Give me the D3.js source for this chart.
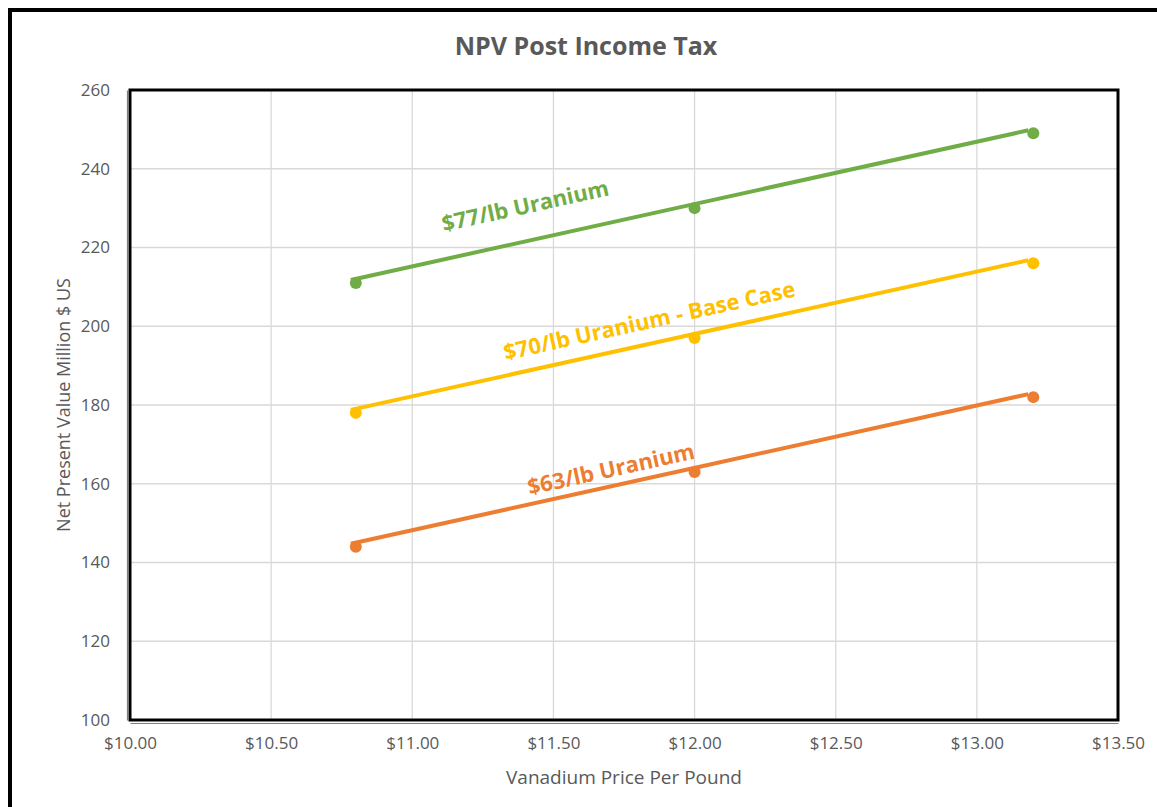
<!DOCTYPE html>
<html>
<head>
<meta charset="utf-8">
<script src="https://cdn.jsdelivr.net/npm/d3@7"></script>
<style>
  body { margin: 0; background: #fff; }
  text { font-family: "Open Sans", "Liberation Sans", sans-serif; }
</style>
</head>
<body>
<div id="chart"></div>
<script>
// Vanadium price points (x) and NPV in million $ US (y)
const vanadiumPrices = [10.8, 12.0, 13.2];
const npv77 = [211, 230, 249];
const npv70 = [178, 197, 216];
const npv63 = [144, 163, 182];
const seriesNames = ['$77/lb Uranium', '$70/lb Uranium - Base Case', '$63/lb Uranium'];
const xTicks = [10.0, 10.5, 11.0, 11.5, 12.0, 12.5, 13.0, 13.5];
const yTicks = [100, 120, 140, 160, 180, 200, 220, 240, 260];

const W = 1157, H = 807;
const margin = { top: 90, right: 39, bottom: 87, left: 130 };
const width = W - margin.left - margin.right;
const height = H - margin.top - margin.bottom;

const series = [
  { name: seriesNames[0], values: npv77, color: '#70ad47', labelAt: 11.43, labelOff: -31 },
  { name: seriesNames[1], values: npv70, color: '#ffc000', labelAt: 11.86, labelOff: -19 },
  { name: seriesNames[2], values: npv63, color: '#ed7d31', labelAt: 11.72, labelOff: -13 }
];

const svg = d3.select('#chart')
  .append('svg')
  .attr('width', W)
  .attr('height', H);

// outer chart frame
svg.append('rect')
  .attr('x', 10).attr('y', 10)
  .attr('width', W + 20).attr('height', H + 20)
  .attr('fill', '#fff')
  .attr('stroke', '#000')
  .attr('stroke-width', 4);

// title
svg.append('text')
  .attr('x', 586)
  .attr('y', 55)
  .attr('text-anchor', 'middle')
  .attr('font-size', 25)
  .attr('font-weight', 'bold')
  .attr('fill', '#595959')
  .text('NPV Post Income Tax');

const g = svg.append('g')
  .attr('transform', `translate(${margin.left}, ${margin.top})`);

const xScale = d3.scaleLinear().domain([10, 13.5]).range([0, width]);
const yScale = d3.scaleLinear().domain([100, 260]).range([height, 0]);

// gridlines
g.append('g')
  .selectAll('line')
  .data(xTicks.slice(1, -1))
  .enter()
  .append('line')
  .attr('x1', d => xScale(d)).attr('x2', d => xScale(d))
  .attr('y1', 0).attr('y2', height)
  .attr('stroke', '#d9d9d9')
  .attr('stroke-width', 1.3);

g.append('g')
  .selectAll('line')
  .data(yTicks.slice(1, -1))
  .enter()
  .append('line')
  .attr('x1', 0).attr('x2', width)
  .attr('y1', d => yScale(d)).attr('y2', d => yScale(d))
  .attr('stroke', '#d9d9d9')
  .attr('stroke-width', 1.3);

// plot area border
g.append('rect')
  .attr('x', 0).attr('y', 0)
  .attr('width', width).attr('height', height)
  .attr('fill', 'none')
  .attr('stroke', '#000')
  .attr('stroke-width', 3);

// axes
const xAxis = g.append('g')
  .attr('transform', `translate(0, ${height + 3})`)
  .call(d3.axisBottom(xScale).tickValues(xTicks).tickFormat(d3.format('$.2f')).tickSize(0).tickPadding(14));

const yAxis = g.append('g')
  .attr('transform', 'translate(-3, 0)')
  .call(d3.axisLeft(yScale).tickValues(yTicks).tickSize(0).tickPadding(17));

[xAxis, yAxis].forEach(ax => {
  ax.select('.domain').attr('stroke', '#7f7f7f').attr('stroke-width', 1.2);
  ax.selectAll('text')
    .attr('font-size', 17)
    .attr('fill', '#595959');
});

// axis titles
svg.append('text')
  .attr('x', margin.left + xScale(11.75))
  .attr('y', 784)
  .attr('text-anchor', 'middle')
  .attr('font-size', 19)
  .attr('fill', '#595959')
  .text('Vanadium Price Per Pound');

svg.append('text')
  .attr('transform', `translate(70, ${margin.top + height / 2}) rotate(-90)`)
  .attr('text-anchor', 'middle')
  .attr('font-size', 18)
  .attr('fill', '#595959')
  .text('Net Present Value Million $ US');

// series lines, markers and labels
const line = d3.line()
  .x((d, i) => xScale(vanadiumPrices[i]))
  .y(d => yScale(d));

series.forEach(s => {
  g.append('path')
    .datum(s.values)
    .attr('d', line)
    .attr('transform', 'translate(-5, -3)')
    .attr('fill', 'none')
    .attr('stroke', s.color)
    .attr('stroke-width', 4);

  g.selectAll(null)
    .data(s.values)
    .enter()
    .append('circle')
    .attr('cx', (d, i) => xScale(vanadiumPrices[i]))
    .attr('cy', d => yScale(d))
    .attr('r', 6)
    .attr('fill', s.color);

  // label placed along the line
  const x0 = xScale(vanadiumPrices[0]), x1 = xScale(vanadiumPrices[2]);
  const y0 = yScale(s.values[0]), y1 = yScale(s.values[2]);
  const angle = Math.atan2(y1 - y0, x1 - x0) * 180 / Math.PI;
  const lx = xScale(s.labelAt);
  const ly = y0 + (y1 - y0) * (lx - x0) / (x1 - x0);
  g.append('text')
    .attr('transform', `translate(${lx}, ${ly}) rotate(${angle}) translate(0, ${s.labelOff})`)
    .attr('text-anchor', 'middle')
    .attr('font-size', 22)
    .attr('font-weight', 'bold')
    .attr('fill', s.color)
    .text(s.name);
});
</script>
</body>
</html>
